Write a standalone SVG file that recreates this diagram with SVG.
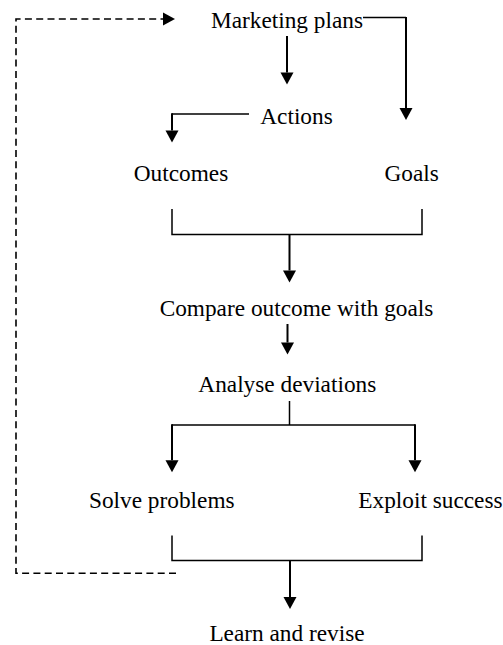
<svg xmlns="http://www.w3.org/2000/svg" width="503" height="645" viewBox="0 0 503 645">
<defs>
<style>
text{font-family:"Liberation Serif","Times New Roman",serif;font-size:23.3px;fill:#000}
.c{text-anchor:middle}
.ln{fill:none;stroke:#000;stroke-width:1.5}
.sh{fill:none;stroke:#000;stroke-width:2}
.ds{fill:none;stroke:#000;stroke-width:1.6;stroke-dasharray:7 4.3}
</style>
<marker id="ah" markerUnits="userSpaceOnUse" markerWidth="13" markerHeight="14" refX="0" refY="6.5" orient="auto" overflow="visible">
<path d="M0,0 L12,6.5 L0,13 Z" fill="#000"/>
</marker>
</defs>
<rect width="503" height="645" fill="#fff"/>
<g id="connectors">
<path class="sh" d="M287,36 V72.5" marker-end="url(#ah)"/>
<path class="ln" d="M363,17.5 H406"/>
<path class="sh" d="M406,17 V108" marker-end="url(#ah)"/>
<path class="ln" d="M249,114 H172"/>
<path class="sh" d="M172,113.3 V130.5" marker-end="url(#ah)"/>
<path class="ln" d="M172,209 V234.5 H422 V209"/>
<path class="sh" d="M289.5,234.5 V270.5" marker-end="url(#ah)"/>
<path class="sh" d="M287.5,324 V342.5" marker-end="url(#ah)"/>
<path class="ln" d="M289.5,401 V425"/>
<path class="ln" d="M172,425 H415"/>
<path class="sh" d="M172,424.3 V460.3" marker-end="url(#ah)"/>
<path class="sh" d="M415,424.3 V460.3" marker-end="url(#ah)"/>
<path class="ln" d="M172,535.5 V560.5 H422 V535.5"/>
<path class="sh" d="M290,560.5 V597" marker-end="url(#ah)"/>
<path class="ds" d="M176,573.3 H16 V19 H163" marker-end="url(#ah)"/>
</g>
<g id="marketing-plans"><text class="c" x="287" y="28">Marketing plans</text></g>
<g id="actions"><text class="c" x="296.5" y="124">Actions</text></g>
<g id="outcomes"><text class="c" x="181" y="181">Outcomes</text></g>
<g id="goals"><text class="c" x="411.7" y="181">Goals</text></g>
<g id="compare"><text class="c" x="296.5" y="316">Compare outcome with goals</text></g>
<g id="analyse"><text class="c" x="287.3" y="392">Analyse deviations</text></g>
<g id="solve"><text class="c" x="161.8" y="508">Solve problems</text></g>
<g id="exploit"><text x="358.3" y="508">Exploit success</text></g>
<g id="learn"><text class="c" x="287" y="640.5">Learn and revise</text></g>
</svg>
